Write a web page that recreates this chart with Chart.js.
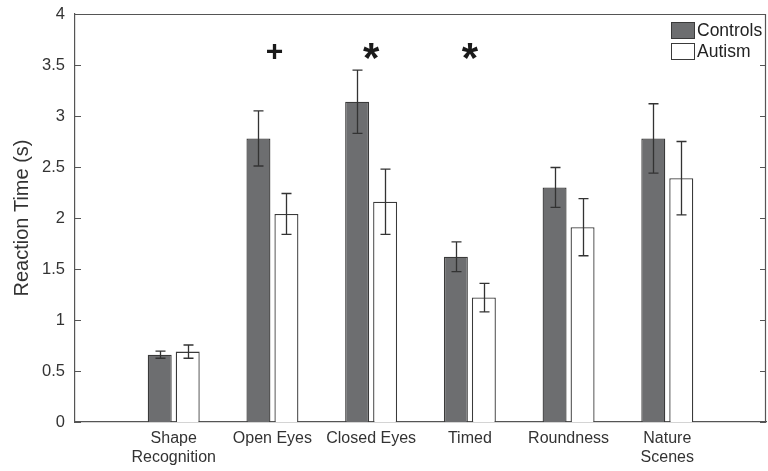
<!DOCTYPE html>
<html>
<head>
<meta charset="utf-8">
<script src="https://cdn.jsdelivr.net/npm/chart.js@4.4.0/dist/chart.umd.min.js"></script>
<style>
  html, body { margin: 0; padding: 0; background: #ffffff; }
  #wrap { width: 768px; height: 471px; }
</style>
</head>
<body>
<div id="wrap"><canvas id="c" width="768" height="471"></canvas></div>
<script>
// ---- Data ----
const categories = [['Shape', 'Recognition'], 'Open Eyes', 'Closed Eyes', 'Timed', 'Roundness', ['Nature', 'Scenes']];
const seriesNames = ['Controls', 'Autism'];
const controls = [0.66, 2.78, 3.14, 1.62, 2.30, 2.78];
const controlsErr = [0.035, 0.27, 0.31, 0.145, 0.195, 0.34];
const autism = [0.69, 2.04, 2.16, 1.22, 1.91, 2.39];
const autismErr = [0.065, 0.20, 0.32, 0.14, 0.28, 0.36];
const significance = ['', '+', '*', '*', '', ''];
const significanceLevel = 3.62;
const yTicks = [0, 0.5, 1, 1.5, 2, 2.5, 3, 3.5, 4];
const yTickLabels = ['0', '0.5', '1', '1.5', '2', '2.5', '3', '3.5', '4'];

// Category axis spans 0..7 with the six groups at 1..6 (blank ends)
const labels = [''].concat(categories, ['']);
const pad = arr => [null].concat(arr, [null]);

const FONT = "'Liberation Sans', Arial, Helvetica, sans-serif";
const TEXT = '#333333';
const AXIS = '#555555';
const DARK = '#6d6e70';
const EDGE = '#3a3a3a';

const overlay = {
  id: 'overlay',
  afterDatasetsDraw(chart) {
    const ctx = chart.ctx;
    const y = chart.scales.y;
    const x = chart.scales.x;
    const errs = [controlsErr, autismErr];
    // error bars
    ctx.save();
    ctx.strokeStyle = '#333333';
    ctx.lineWidth = 1.3;
    chart.data.datasets.forEach((ds, di) => {
      const meta = chart.getDatasetMeta(di);
      meta.data.forEach((el, i) => {
        const v = ds.data[i];
        if (v === null || v === undefined) return;
        const e = errs[di][i - 1];
        const cx = Math.round(el.x) + 0.5;
        const yt = y.getPixelForValue(v + e);
        const yb = y.getPixelForValue(v - e);
        ctx.beginPath();
        ctx.moveTo(cx, yt); ctx.lineTo(cx, yb);
        ctx.moveTo(cx - 5, yt); ctx.lineTo(cx + 5, yt);
        ctx.moveTo(cx - 5, yb); ctx.lineTo(cx + 5, yb);
        ctx.stroke();
      });
    });
    ctx.restore();

    // significance markers
    ctx.save();
    ctx.fillStyle = '#1a1a1a';
    ctx.textAlign = 'center';
    ctx.textBaseline = 'middle';
    significance.forEach((s, i) => {
      if (!s) return;
      const px = x.getPixelForValue(i + 1);
      const py = y.getPixelForValue(significanceLevel);
      if (s === '*') {
        ctx.font = 'bold 42px ' + FONT;
        ctx.fillText(s, px, py + 8);
      } else {
        ctx.font = 'bold 30px ' + FONT;
        ctx.fillText(s, px + 2, py);
      }
    });
    ctx.restore();
  },
  afterDraw(chart) {
    const ctx = chart.ctx;
    const a = chart.chartArea;
    const y = chart.scales.y;
    ctx.save();
    ctx.strokeStyle = AXIS;
    ctx.lineWidth = 1.2;
    // box
    ctx.beginPath();
    ctx.moveTo(a.left, a.top + 0.5); ctx.lineTo(a.right, a.top + 0.5);
    ctx.moveTo(a.right - 0.5, a.top); ctx.lineTo(a.right - 0.5, a.bottom);
    ctx.stroke();
    // inward ticks on left and right
    ctx.lineWidth = 1;
    yTicks.forEach(t => {
      const py = Math.round(y.getPixelForValue(t)) + 0.5;
      ctx.beginPath();
      ctx.moveTo(a.left, py); ctx.lineTo(a.left + 6, py);
      ctx.moveTo(a.right, py); ctx.lineTo(a.right - 6, py);
      ctx.stroke();
    });
    ctx.restore();

    // legend
    ctx.save();
    const lx = 671, ly = 22, sw = 23, sh = 16, gap = 21;
    ctx.font = '17.5px ' + FONT;
    ctx.textBaseline = 'middle';
    ctx.textAlign = 'left';
    chart.data.datasets.forEach((ds, di) => {
      const top = ly + di * gap;
      ctx.fillStyle = ds.backgroundColor;
      ctx.fillRect(lx, top, sw, sh);
      ctx.strokeStyle = EDGE;
      ctx.lineWidth = 1;
      ctx.strokeRect(lx + 0.5, top + 0.5, sw, sh);
      ctx.fillStyle = '#222222';
      ctx.fillText(ds.label, lx + sw + 3, top + sh / 2 + 1);
    });
    ctx.restore();
  }
};

new Chart(document.getElementById('c'), {
  type: 'bar',
  data: {
    labels: labels,
    datasets: [
      { label: seriesNames[0], data: pad(controls), backgroundColor: DARK, borderColor: EDGE, borderWidth: 1.3 },
      { label: seriesNames[1], data: pad(autism), backgroundColor: '#ffffff', borderColor: EDGE, borderWidth: 1.3 }
    ]
  },
  options: {
    responsive: false,
    animation: false,
    devicePixelRatio: 1,
    layout: { padding: { left: 0, right: 2, top: 14, bottom: 0 } },
    datasets: { bar: { categoryPercentage: 0.567, barPercentage: 0.857 } },
    plugins: { legend: { display: false }, tooltip: { enabled: false } },
    scales: {
      x: {
        type: 'category',
        offset: false,
        grid: { display: false, drawTicks: false },
        border: { display: true, color: AXIS, width: 1.2 },
        ticks: { color: TEXT, font: { family: FONT, size: 16 }, padding: 7, maxRotation: 0, autoSkip: false },
        afterFit(scale) { scale.height = 49; scale.paddingLeft = 0; scale.paddingRight = 0; }
      },
      y: {
        min: 0, max: 4,
        grid: { display: false, drawTicks: false },
        border: { display: true, color: AXIS, width: 1.2 },
        afterBuildTicks(scale) { scale.ticks = yTicks.map(v => ({ value: v })); },
        ticks: {
          color: TEXT, font: { family: FONT, size: 16.5 }, padding: 10,
          callback: (v) => { const i = yTicks.indexOf(v); return i >= 0 ? yTickLabels[i] : ''; }
        },
        title: { display: true, text: 'Reaction Time (s)', color: TEXT, font: { family: FONT, size: 20 }, padding: { top: 10, bottom: 0 } },
        afterFit(scale) { scale.width = 75; scale.paddingTop = 0; scale.paddingBottom = 0; }
      }
    }
  },
  plugins: [overlay]
});
</script>
</body>
</html>
